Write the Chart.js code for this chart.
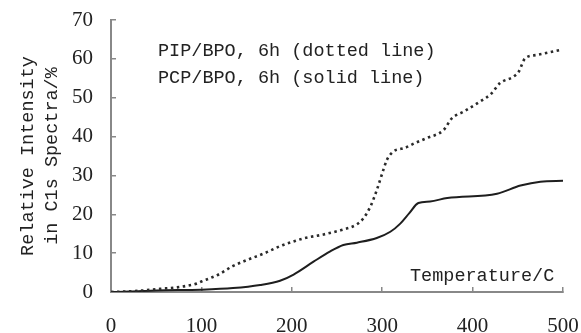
<!DOCTYPE html>
<html><head><meta charset="utf-8">
<style>html,body{margin:0;padding:0;background:#fff;}#wrap{width:581px;height:333px;}</style>
<script src="https://cdn.jsdelivr.net/npm/chart.js@4"></script>
</head><body><div id="wrap"><canvas id="c" width="581" height="333"></canvas></div>
<script>
// PIP/BPO, 6h (dotted line)
const pipTemps  = [0, 30, 54, 73, 84, 95, 100, 110, 119, 135, 150, 169, 187, 202, 213, 235, 257, 272, 279, 287, 294, 300, 305, 312, 318, 324, 336, 349, 368, 377, 390, 408, 421, 430, 445, 451, 458, 471, 499];
const pipValues = [0, 0.3, 0.8, 1.2, 1.6, 2.2, 2.7, 3.6, 4.5, 6.7, 8.2, 9.9, 11.8, 13.0, 13.8, 14.8, 16.1, 17.4, 18.9, 22.0, 26.2, 30.5, 33.9, 36.1, 36.7, 37.0, 38.3, 39.6, 41.7, 44.7, 46.4, 49.0, 51.1, 53.7, 55.4, 56.7, 60.1, 61.0, 62.4];
// PCP/BPO, 6h (solid line)
const pcpTemps  = [0, 20, 50, 100, 135, 165, 187, 202, 224, 242, 257, 272, 294, 309, 320, 330, 340, 353, 372, 427, 453, 475, 500];
const pcpValues = [0, 0.1, 0.4, 0.6, 1.0, 1.8, 2.9, 4.5, 7.8, 10.4, 12.1, 12.7, 13.9, 15.5, 17.6, 20.3, 22.9, 23.3, 24.2, 25.3, 27.4, 28.4, 28.6];
const xTickValues = [0, 100, 200, 300, 400, 500];
const yTickValues = [0, 10, 20, 30, 40, 50, 60, 70];
const legendLines = ['PIP/BPO, 6h (dotted line)', 'PCP/BPO, 6h (solid line)'];
const xTitle = 'Temperature/C';
const yTitleLines = ['Relative Intensity', 'in C1s Spectra/%'];

const toPts = (xs, ys) => xs.map((x, i) => ({x: x, y: ys[i]}));
const monoFont = '18.5px "Liberation Mono", "DejaVu Sans Mono", monospace';

const textPlugin = {
  id: 'texts',
  afterDraw(chart) {
    const ctx = chart.ctx, a = chart.chartArea;
    ctx.save();
    ctx.fillStyle = '#222';
    ctx.font = monoFont;
    ctx.textBaseline = 'alphabetic';
    ctx.textAlign = 'left';
    ctx.fillText(legendLines[0], a.left + 47, a.top + 35.5);
    ctx.fillText(legendLines[1], a.left + 47, a.top + 62.5);
    ctx.fillText(xTitle, a.left + 299, a.bottom - 11);
    ctx.textAlign = 'center';
    const cy = (a.top + a.bottom) / 2;
    [33, 57].forEach((bx, i) => {
      ctx.save();
      ctx.translate(bx, cy);
      ctx.rotate(-Math.PI / 2);
      ctx.fillText(yTitleLines[i], 0, 0);
      ctx.restore();
    });
    ctx.restore();
  }
};

const tickFont = {family: '"Liberation Serif", "DejaVu Serif", serif', size: 21};
const axisColor = '#888';

new Chart(document.getElementById('c'), {
  type: 'line',
  data: {
    datasets: [
      {data: toPts(pipTemps, pipValues), borderColor: '#2a2a2a', borderWidth: 2.6, borderDash: [2.5, 3.5], pointRadius: 0, fill: false, cubicInterpolationMode: 'monotone'},
      {data: toPts(pcpTemps, pcpValues), borderColor: '#1e1e1e', borderWidth: 2, pointRadius: 0, fill: false, cubicInterpolationMode: 'monotone'}
    ]
  },
  options: {
    responsive: false,
    devicePixelRatio: 1,
    animation: false,
    layout: {padding: {left: 0, right: 18, top: 20, bottom: 0}},
    plugins: {legend: {display: false}, tooltip: {enabled: false}},
    scales: {
      x: {
        type: 'linear', min: 0, max: 500,
        afterBuildTicks: s => { s.ticks = xTickValues.map(v => ({value: v})); },
        ticks: {font: tickFont, color: '#222', padding: 27, maxRotation: 0},
        grid: {drawOnChartArea: false, tickLength: -5, color: axisColor, lineWidth: 1.5},
        border: {color: axisColor, width: 2},
        afterFit: s => { s.height = 41; s.paddingLeft = 0; s.paddingRight = 0; s.paddingTop = 0; s.paddingBottom = 0; }
      },
      y: {
        type: 'linear', min: 0, max: 70,
        afterBuildTicks: s => { s.ticks = yTickValues.map(v => ({value: v})); },
        ticks: {font: tickFont, color: '#222', padding: 23},
        grid: {drawOnChartArea: false, tickLength: -5, color: axisColor, lineWidth: 1.5},
        border: {color: axisColor, width: 2},
        afterFit: s => { s.width = 111; s.paddingLeft = 0; s.paddingRight = 0; s.paddingTop = 0; s.paddingBottom = 0; }
      }
    }
  },
  plugins: [textPlugin]
});
</script>
</body></html>
